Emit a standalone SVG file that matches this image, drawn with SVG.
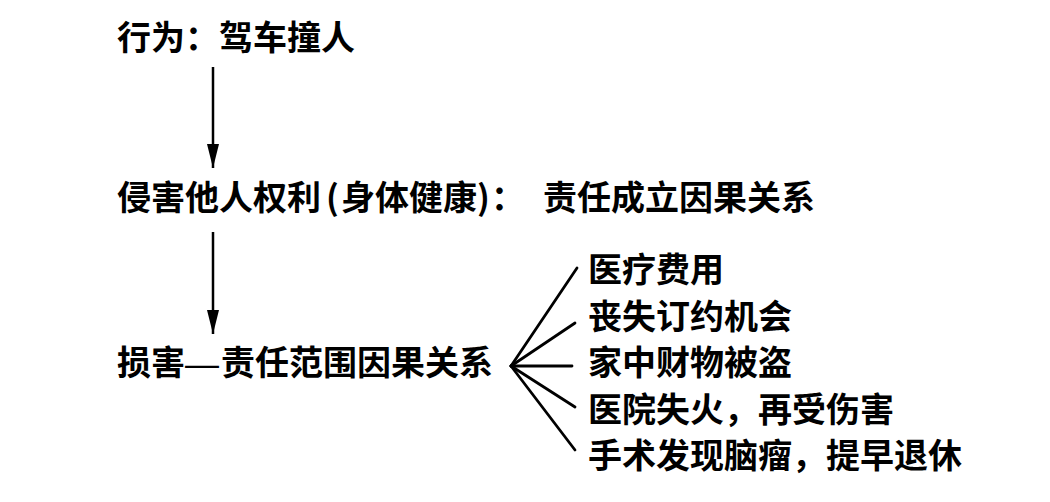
<svg xmlns="http://www.w3.org/2000/svg" width="1050" height="502" viewBox="0 0 1050 502">
<style>
text{font-family:"Noto Sans CJK SC","Noto Sans CJK TC",sans-serif;font-size:34px;font-weight:bold;fill:#000}
.dash{font-family:"Liberation Sans",sans-serif;font-weight:normal}
.ln{stroke:#000;stroke-width:2.8;fill:none;stroke-linecap:round}
.ar{stroke:#000;stroke-width:2.5;fill:none}
</style>
<defs>
<marker id="ah" viewBox="0 0 24 12" refX="24" refY="6" markerWidth="24" markerHeight="12" markerUnits="userSpaceOnUse" orient="auto">
<path d="M0,0 L24,6 L0,12 Z" fill="#000"/>
</marker>
</defs>
<rect width="1050" height="502" fill="#fff"/>
<g id="node-act"><text x="117" y="50">行为：驾车撞人</text></g>
<g id="node-infringe"><text x="117" y="210">侵害他人权利<tspan x="326">(</tspan><tspan x="341">身体健康</tspan><tspan x="477">)</tspan><tspan x="491">：</tspan><tspan x="543">责任成立因果关系</tspan></text></g>
<g id="node-damage"><text x="117" y="375">损害<tspan class="dash" x="185">—</tspan><tspan x="221">责任范围因果关系</tspan></text></g>
<g id="node-d1"><text x="588" y="282">医疗费用</text></g>
<g id="node-d2"><text x="588" y="329">丧失订约机会</text></g>
<g id="node-d3"><text x="588" y="375">家中财物被盗</text></g>
<g id="node-d4"><text x="588" y="422">医院失火，再受伤害</text></g>
<g id="node-d5"><text x="588" y="468">手术发现脑瘤，提早退休</text></g>
<g id="connectors">
<line class="ar" x1="213" y1="67" x2="213" y2="168" marker-end="url(#ah)"/>
<line class="ar" x1="213" y1="232" x2="213" y2="334" marker-end="url(#ah)"/>
<line class="ln" x1="511" y1="366" x2="577" y2="268"/>
<line class="ln" x1="511" y1="366" x2="575" y2="323"/>
<line class="ln" x1="511" y1="366" x2="572" y2="366"/>
<line class="ln" x1="511" y1="366" x2="575" y2="407"/>
<line class="ln" x1="511" y1="366" x2="575" y2="450"/>
</g>
</svg>
